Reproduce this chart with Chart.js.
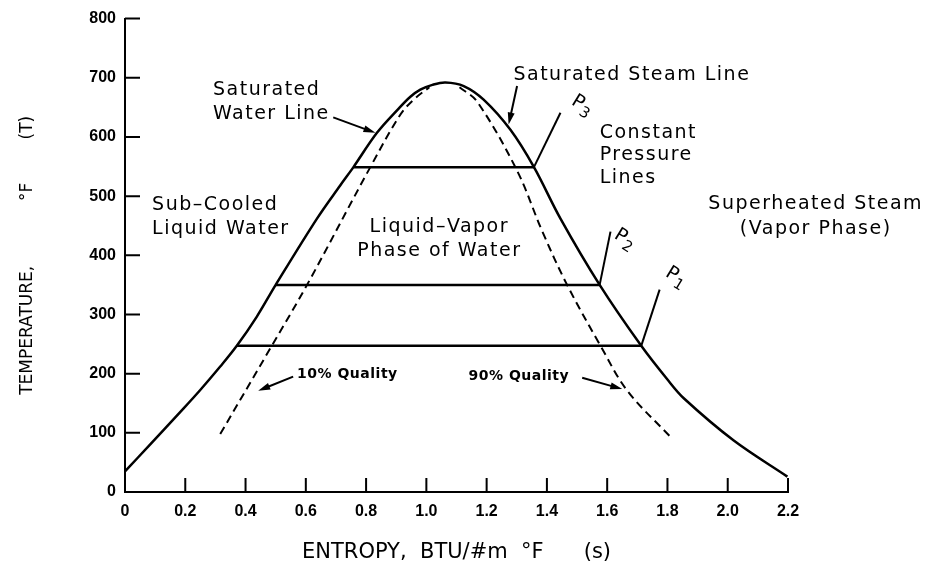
<!DOCTYPE html>
<html>
<head>
<meta charset="utf-8">
<script src="https://cdn.jsdelivr.net/npm/chart.js@4.4.1/dist/chart.umd.min.js"></script>
<style>
  html, body { margin: 0; background: #fff; }
  #wrap { width: 948px; height: 577px; }
</style>
</head>
<body>
<div id="wrap"><canvas id="ts"></canvas></div>
<script>
// T-s diagram for water
// saturation dome: saturated water line (left) + saturated steam line (right)
const domeS = [0, 0.083, 0.183, 0.249, 0.316, 0.371, 0.437, 0.50, 0.637, 0.714, 0.758, 0.836, 0.908, 0.947, 0.98, 1.02, 1.063, 1.124, 1.19, 1.279, 1.357, 1.445, 1.575, 1.713, 1.8, 1.855, 2.02, 2.198];
const domeT = [35, 80, 135, 172, 212, 247, 296, 350, 462, 518, 549, 607, 648, 668, 680, 688, 692, 686, 663, 612, 549, 462, 350, 247, 190, 158, 87, 26];

// 10% and 90% quality lines (dashed)
const q10S = [0.316, 0.487, 0.604, 0.814, 0.914, 0.96, 1.01];
const q10T = [98, 247, 350, 549, 638, 664, 684];
const q90S = [1.11, 1.168, 1.301, 1.385, 1.467, 1.578, 1.667, 1.81];
const q90T = [684, 660, 543, 440, 350, 247, 171, 93];

// constant pressure lines P1, P2, P3
const p1S = [0.371, 1.713], p1T = [247, 247];
const p2S = [0.50, 1.575], p2T = [350, 350];
const p3S = [0.758, 1.357], p3T = [549, 549];

const xTicks = [0, 0.2, 0.4, 0.6, 0.8, 1.0, 1.2, 1.4, 1.6, 1.8, 2.0, 2.2];
const xTickLabels = ['0', '0.2', '0.4', '0.6', '0.8', '1.0', '1.2', '1.4', '1.6', '1.8', '2.0', '2.2'];
const yTicks = [0, 100, 200, 300, 400, 500, 600, 700, 800];

const FONT = '"DejaVu Sans", sans-serif';
const TICKFONT = '"Liberation Sans", Arial, sans-serif';

function pts(xs, ys) {
  return xs.map((x, i) => ({ x: x, y: ys[i] }));
}

function line(xs, ys, dashed) {
  return {
    data: pts(xs, ys),
    showLine: true,
    borderColor: '#000',
    borderWidth: dashed ? 2 : 2.5,
    borderDash: dashed ? [8, 5] : [],
    pointRadius: 0,
    tension: 0.35,
    fill: false
  };
}

// annotations, in data units (s, T)
const texts = [
  { t: 'Saturated', s: 0.292, T: 680 },
  { t: 'Water Line', s: 0.292, T: 638 },
  { t: 'Saturated Steam Line', s: 1.289, T: 705 },
  { t: 'Constant', s: 1.575, T: 607 },
  { t: 'Pressure', s: 1.575, T: 569 },
  { t: 'Lines', s: 1.575, T: 530 },
  { t: 'Superheated Steam', s: 2.292, T: 487, align: 'center' },
  { t: '(Vapor Phase)', s: 2.292, T: 445, align: 'center' },
  { t: 'Sub\u2013Cooled', s: 0.09, T: 485 },
  { t: 'Liquid Water', s: 0.09, T: 445 },
  { t: 'Liquid\u2013Vapor', s: 1.043, T: 448, align: 'center' },
  { t: 'Phase of Water', s: 1.043, T: 408, align: 'center' },
  { t: '10% Quality', s: 0.571, T: 198, small: true },
  { t: '90% Quality', s: 1.14, T: 195, small: true }
];
const arrows = [
  [0.691, 633, 0.831, 607],
  [1.301, 686, 1.273, 621],
  [0.558, 195, 0.442, 171],
  [1.517, 193, 1.65, 174]
];
const leaders = [
  { a: [1.357, 549, 1.445, 641], n: '3', s: 1.478, T: 656 },
  { a: [1.575, 350, 1.611, 440], n: '2', s: 1.62, T: 430 },
  { a: [1.713, 247, 1.774, 342], n: '1', s: 1.79, T: 366 }
];

const decor = {
  id: 'decor',
  afterDatasetsDraw(chart) {
    const ctx = chart.ctx;
    const xs = chart.scales.x, ys = chart.scales.y;
    const px = v => xs.getPixelForValue(v);
    const py = v => ys.getPixelForValue(v);
    ctx.save();
    ctx.strokeStyle = '#000';
    ctx.fillStyle = '#000';

    // inward tick marks
    ctx.lineWidth = 2;
    ctx.beginPath();
    xTicks.forEach(v => {
      if (v === 0) return;
      ctx.moveTo(px(v), ys.bottom);
      ctx.lineTo(px(v), ys.bottom - 14);
    });
    yTicks.forEach(v => {
      if (v === 0) return;
      ctx.moveTo(xs.left, py(v));
      ctx.lineTo(xs.left + 15, py(v));
    });
    ctx.stroke();

    // arrows
    ctx.lineWidth = 2;
    arrows.forEach(a => {
      const x0 = px(a[0]), y0 = py(a[1]), x1 = px(a[2]), y1 = py(a[3]);
      const c = Math.cos(Math.atan2(y1 - y0, x1 - x0));
      const s = Math.sin(Math.atan2(y1 - y0, x1 - x0));
      ctx.beginPath();
      ctx.moveTo(x0, y0);
      ctx.lineTo(x1 - 8 * c, y1 - 8 * s);
      ctx.stroke();
      ctx.beginPath();
      ctx.moveTo(x1, y1);
      ctx.lineTo(x1 - 12 * c + 3.5 * s, y1 - 12 * s - 3.5 * c);
      ctx.lineTo(x1 - 12 * c - 3.5 * s, y1 - 12 * s + 3.5 * c);
      ctx.closePath();
      ctx.fill();
    });

    // pressure leader lines and tilted P labels
    leaders.forEach(l => {
      ctx.beginPath();
      ctx.moveTo(px(l.a[0]), py(l.a[1]));
      ctx.lineTo(px(l.a[2]), py(l.a[3]));
      ctx.stroke();
      ctx.save();
      ctx.translate(px(l.s), py(l.T));
      ctx.rotate(0.55);
      ctx.textAlign = 'left';
      ctx.textBaseline = 'alphabetic';
      ctx.font = '19px ' + FONT;
      ctx.fillText('P', 0, 0);
      ctx.font = '15px ' + FONT;
      ctx.fillText(l.n, 12, 5);
      ctx.restore();
    });

    // region labels
    ctx.textBaseline = 'middle';
    texts.forEach(o => {
      ctx.font = o.small ? 'bold 14px ' + FONT : '19px ' + FONT;
      ctx.letterSpacing = o.small ? '0.5px' : '1.5px';
      ctx.textAlign = o.align || 'left';
      ctx.fillText(o.t, px(o.s), py(o.T));
    });
    ctx.letterSpacing = '0px';
    ctx.restore();
  }
};

new Chart(document.getElementById('ts'), {
  type: 'scatter',
  data: {
    datasets: [
      line(domeS, domeT, false),
      line(q10S, q10T, true),
      line(q90S, q90T, true),
      line(p1S, p1T, false),
      line(p2S, p2T, false),
      line(p3S, p3T, false)
    ]
  },
  options: {
    responsive: true,
    maintainAspectRatio: false,
    animation: false,
    layout: { padding: { top: 15, right: 160, left: 0, bottom: 0 } },
    plugins: {
      legend: { display: false },
      tooltip: { enabled: false }
    },
    scales: {
      x: {
        type: 'linear',
        min: 0,
        max: 2.2,
        afterBuildTicks: s => { s.ticks = xTicks.map(v => ({ value: v })); },
        afterFit: s => { s.height = 85; },
        grid: { display: false, drawTicks: false },
        border: { display: true, color: '#000', width: 2 },
        ticks: {
          color: '#000',
          padding: 10,
          maxRotation: 0,
          autoSkip: false,
          font: { family: TICKFONT, size: 16, weight: 'bold' },
          callback: (v, i) => xTickLabels[i]
        },
        title: {
          display: true,
          text: 'ENTROPY,  BTU/#m  \u00b0F      (s)',
          color: '#000',
          font: { family: FONT, size: 21 },
          padding: { top: 0, bottom: 12 }
        }
      },
      y: {
        type: 'linear',
        min: 0,
        max: 800,
        afterBuildTicks: s => { s.ticks = yTicks.map(v => ({ value: v })); },
        afterFit: s => { s.width = 125; },
        grid: { display: false, drawTicks: false },
        border: { display: true, color: '#000', width: 2 },
        ticks: {
          color: '#000',
          padding: 9,
          autoSkip: false,
          font: { family: TICKFONT, size: 16, weight: 'bold' },
          callback: v => String(v)
        },
        title: {
          display: true,
          text: 'TEMPERATURE,            \u00b0F        (T)',
          color: '#000',
          font: { family: FONT, size: 17 },
          padding: { top: 17, bottom: 0 }
        }
      }
    }
  },
  plugins: [decor]
});
</script>
</body>
</html>
